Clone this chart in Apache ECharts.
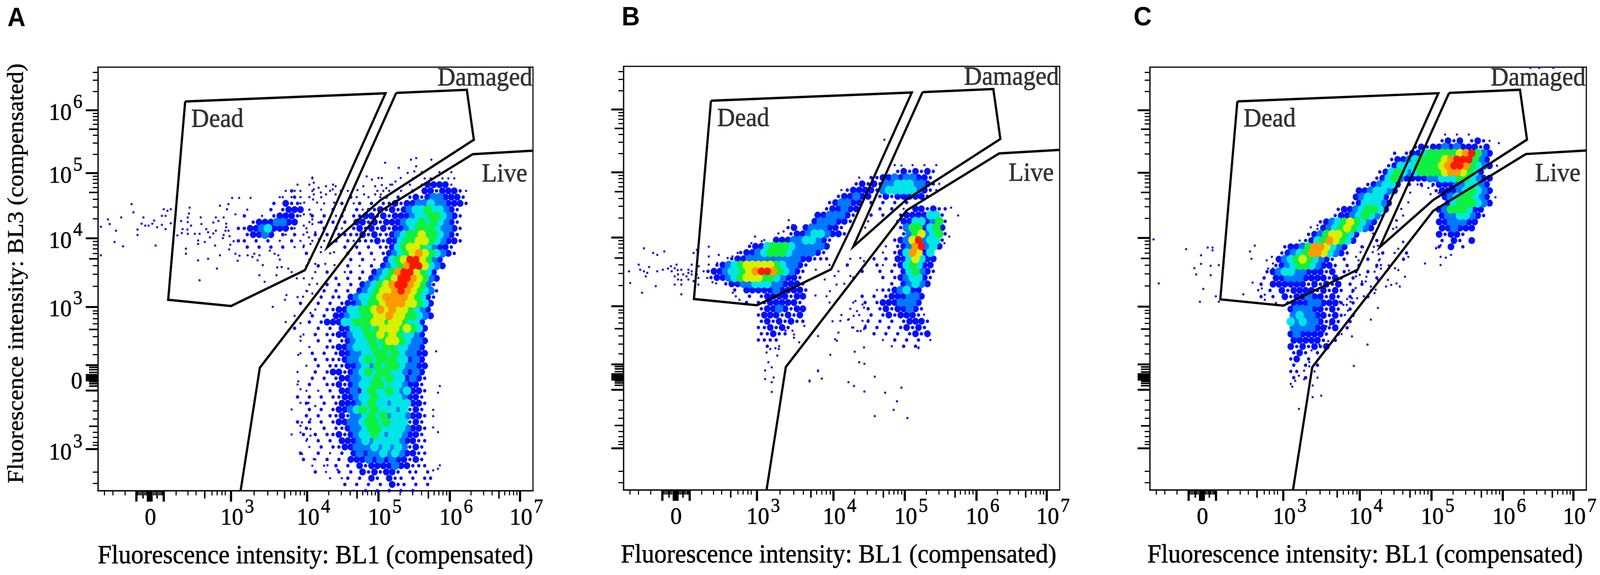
<!DOCTYPE html>
<html>
<head>
<meta charset="utf-8">
<title>Fluorescence gates</title>
<style>
html, body { margin: 0; padding: 0; background: #fff; overflow: hidden; }
#main { width: 4329px; height: 1473px; transform-origin: 0 0; }
#main canvas { filter: blur(0.6px); }
</style>
<script src="https://cdn.jsdelivr.net/npm/echarts@6/dist/echarts.min.js"></script>
</head>
<body>
<div id="main"></div>
<script>
/* axis channels: both axes are biexponential, so values are kept in display channels */
var panelNames = ['A', 'B', 'C'];
var xTitle = 'Fluorescence intensity: BL1 (compensated)';
var yTitle = 'Fluorescence intensity: BL3 (compensated)';

var xMajor = [104, 135, 140, 145, 178, 360, 566, 759, 952, 1142];
var xMid = [122, 160, 289, 505, 701, 894, 1085];
var xMinor = [17, 40, 73, 108, 112, 116, 120, 126, 130, 150, 154, 158, 164, 168, 172, 174, 211, 243, 265, 308, 322, 335, 344,
    422, 459, 485, 521, 535, 547, 558, 624, 658, 682, 716, 729, 740, 750,
    817, 851, 875, 909, 922, 933, 943, 1009, 1043, 1066, 1100, 1113, 1124, 1133];
var xLabelAt = [142, 377, 583, 776, 969, 1159];
var xLabels = ['0', '3', '4', '5', '6', '7'];

var yMajor = [107, 257, 283, 288, 293, 297, 322, 471, 647, 814, 975];
var yMid = [165, 268, 274, 279, 303, 310, 316, 413, 594, 764, 926];
var yMinor = [19, 48, 117, 124, 137, 150, 184, 205, 230, 349, 374, 395, 428, 441, 454, 461,
    524, 555, 577, 608, 620, 630, 639, 697, 727, 747, 777, 788, 798, 806,
    862, 891, 911, 939, 950, 959, 967, 1023, 1052, 1072];
var yLabelAt = [107, 289, 474, 649, 816, 977];
var yLabels = ['3', '0', '3', '4', '5', '6'];

/* gates, same on all three panels */
var deadGate = [[236, 997], [778, 1018], [615, 673], [560, 565], [360, 473], [190, 489], [236, 997]];
var damagedGate = [[807, 1019], [998, 1027], [1017, 899], [764, 744], [620, 623], [807, 1019]];
var liveGate = [[386, 0], [438, 315], [764, 716], [1014, 862], [1177, 871]];
var gateNames = ['Dead', 'Damaged', 'Live'];
var gateLabelAt = [[323, 950], [1047, 1056], [1100, 810]];

/* density, 16 channels per cell. . = none, 1-2 loose dots, 3 blue ... 9 red */
var cellStep = 16;
var levelColors = ['#fff', '#1a1ad2', '#0a0af0', '#0010ff', '#0078ff', '#00e6e6', '#10f040', '#d8f000', '#ff9a00', '#ff1800'];
var levelSizes = [0, 6, 9, 18, 22, 23, 23, 23, 22, 20];

var densityA_left = 492, densityA_top = 816;
var densityA = [
    '.......... .......... ....1..1.1',
    '.....1.... .......... ..1.11.111',
    '...1.1...1 .........1 ..1.133331',
    '..11.1..1. .1....1.1. 1.2.332333 21',
    '1.1..1.1.. 1.21.1.12. 2.23234433 32',
    '...1...1.1 2.12.2.223 2334454433 32',
    '..1..1.1.2 .1.2122323 2345565543 2',
    '1..1.2.2.1 2.22332323 3345566543 2',
    '.1...1.2.2 .2.3323233 3455656543 2',
    '1.1.1..2.2 1.23232323 3456665443 2',
    '.1..1.2.2. 2222323223 4566766543 2',
    '...1.1.1.2 .212223233 5667765433 2',
    '....1..1.. .2.2.2.223 5677654332',
    '....2...1. .2.2.2.234 5678765432',
    '1....1.... ..2.2.1.35 67997643..',
    '....1.2... .2.1.2.345 68997543..',
    '..1...1.2. .12.2.3456 8997653...',
    '.....1...2 .2.2.34567 9987643...',
    '.....1..2. 2.2.345678 9987642...',
    '....1..2.2 .2.3456778 9876542...',
    '...1...2.2 2.34556788 8876532...',
    '...2..2.2. 2334566788 877653....',
    '......1.22 3355667878 776543....',
    '..1..2.2.3 3455667787 766543....',
    '.1...2.233 3556667767 76553.....',
    '..2...2.2. 3355656777 67653.....',
    '....1.2.22 3345566767 65543.....',
    '...1..2.2. 2345565677 65443.....',
    '.....1..22 3345556566 55443.....',
    '...1.2.2.2 3344556656 54433.....',
    '......2.22 2344565666 55343.....',
    '....1.2.22 2334546566 54433.....',
    '...1..2.23 3234565665 54343.....',
    '.....2.2.2 3344556565 53432.....',
    '...1.2..22 3234556655 54332.....',
    '....1.1.2. 3343565565 45332.....',
    '...2.2.2.2 2334556555 54332.....',
    '....2..2.2 3334565545 55332.....',
    '..1..2.2.2 3345656555 45232.....',
    '....2.2.22 3244565645 54332.....',
    '...2.2.2.2 3344566565 55232.....',
    '....2..2.2 2344566555 54332.....',
    '..1.2.2.22 3234556545 54332.....',
    '....1.2.2. 3334545555 43322.....',
    '.....1.2.2 2334445454 54232.....',
    '...2..2.1. 2.34344545 43322.....',
    '....2.1.2. 2.33343434 33232.....',
    '.....1.1.2 .2.3233334 33222.....',
    '......2... 2.2.323233 2.22.2....',
    '........1. 12.2.32.32 2.2.22....',
    '.......... .2.2.2.2.3 22.2.2....',
    '.......... ..1.2.2.2. 2.2.......'
];
var clusterA_left = 380, clusterA_top = 768;
var clusterA = [
    '........12..',
    '.......1.21.',
    '......2.322.',
    '.1...2.2333.',
    '.2..1.23332.',
    '..23334433..',
    '2233453332..',
    '.23343.2.2..',
    '22.2.2.1.2..',
    '.2.2.2.2.1..'
];
var densityB_left = 220, densityB_top = 832;
var densityB = [
    '.......... .......... .......... ..1..1.1.1',
    '.......... .......... .......... ..2323232.',
    '.......... .......... ......1.22 334344332.',
    '.......... .......... .....23232 4455544321',
    '.......... .......... ...1233332 4555554321',
    '.......... .......... ..233433.2 32333332..',
    '.......... .......... .234433.2. 2.2.2.....',
    '.......... .......... 233433...2 .2.1.33232 2.',
    '.......... .........3 344432..2. 2..2333355 2.',
    '.......... ........34 44332..1.. ..23355346 2.',
    '.......... ....23.344 4332...1.. ...2466356 3.',
    '.......... ....233455 4332...... ...2467456 2.',
    '.......... 1.33344554 32........ ..23479455 2.',
    '.......233 5666544444 3......... 1.23489453',
    '......2334 5666544443 2......... 1.2358735.',
    '....233444 4444443322 2...1...2. 2.3357533.',
    '..23456777 77654432.. .1..2..1.2 1.2356533.',
    '2334556789 9865432... ..1...2..2 .2.356432.',
    '.233456777 6654332... .....1.... 2.2345532.',
    '...2334455 5443332... ...1...... .2.34543..',
    '.....2.333 33433332.. .........1 2234533...',
    '.......2.2 3333233... 1.....2.2. 2333443...',
    '.......2.2 2333332... .1...1.2.2 3334443...',
    '.........2 3343233... ....1..2.2 3233432...',
    '.........2 3332323... ...1..1.2. 2323332...',
    '.........2 3232322... .1.....2.2 .2.23332..',
    '.........2 23232..... .....1.2.2 .2.23232..',
    '.........2 2322...... ........2. 2.2.2323..',
    '.........2 222....... .......... 1.2.2.2.1.',
    '.......... 2.1....... .......... .1.2.2....'
];
var densityC_left = 252, densityC_top = 912;
var densityC = [
    '.......... .......... .......... ....1.1.1.',
    '.......... .......... .......... ...2323.23 21.',
    '.......... .......... .........2 3233434333 23.',
    '.......... .......... .....2.233 5666667896 43.',
    '.......... .......... .....23345 6666789996 43.',
    '.......... .......... ....235556 6667899865 43.',
    '.......... .......... ...2356545 6666788765 3..',
    '.......... .......... ..23564333 3445556654 33.',
    '.......... .......... .234553.2. 2.23334455 43.',
    '.......... .........3 345543.... ..23334565 43.',
    '.......... .........3 45553..... ....345665 43.',
    '.......... ........23 55543..... ....356665 43.',
    '.......... ......2334 56653..... ...3466653 3..',
    '.......... .....23345 6542...... ...3445543 2..',
    '.......... ...2345676 543....... ...3344433',
    '.......... ...3456765 43........ ...334333.',
    '.......... .234677653 .......... ...32332..',
    '.........1 235687653. ..2....... ...2.32.3.',
    '.......233 46887543.. 2.1....... ...2.3.2..',
    '......2345 68875432.. ...2.1.2..',
    '......3456 765432.2.. .2.1...2..',
    '.....23456 654332.2.2 ..2.1.....',
    '....234554 433323.2.2 .2........',
    '...2.33444 3333232.2. ..2.......',
    '...2.33333 3232323.2. 2.........',
    '..1.2.3233 3323232.2. .1........',
    '...2.2.323 3433232.2. .2........',
    '.....1.233 3443332.2.',
    '........34 4433232.2.',
    '........45 4433232.2.',
    '........54 5443232.2.',
    '........44 443323.2..',
    '........34 33332.2...',
    '........33 3332.2....',
    '........32 32323.....',
    '........23 2.2.......',
    '........23 .2........',
    '........2. 2.2.......',
    '........22 ..1.......',
    '........2. 2.1.......',
    '........1.'
];

/* single events outside the dense parts */
var eventsA = [[91,734],[96,713],[63,700],[27,695],[32,683],[8,676],[49,666],[45,637],[68,626],[8,603],[123,700],[118,684],[128,679],[137,679],[147,684],[152,692],[160,675],[107,669],[107,655],[156,628],[173,681],[183,670],[173,704],[183,704],[178,721],[188,717],[197,721],[197,685],
    [225,691],[248,725],[246,710],[243,700],[243,688],[252,679],[229,670],[242,669],[227,660],[215,654],[243,658],[262,658],[275,658],[278,700],[280,683],[271,641],[271,632],[289,637],[238,620],[238,607],[271,590],[298,594],[322,569],[275,539],[317,628],[303,649],[293,670],[298,662],[312,659],[319,666],[312,687],[319,700],[326,691],[340,700],[330,730],[353,734],[349,721],[363,750],[382,750],[413,750],[330,603],[347,684],[347,675],[340,655],[338,647],[356,652],[345,666],[353,666],[367,639],[358,630],[355,618],[372,708],[372,607],[383,602],[378,589],[405,603],[423,607],[418,599],[437,603],[432,590],[446,578],[437,552],[483,552],[451,535],[465,615],[478,607],[488,603],[485,572],[497,573],[515,569],[510,501],[506,489],[473,471],
    [915,357],[925,268],[920,251],[907,207],[907,191],[907,162],[920,150],[925,65],[920,56],[907,52],[548,225],[570,225],[588,217],[575,183],[552,175],[548,166],[575,158],[548,149],[575,141],[566,132],[552,94],[584,81],[621,65],[617,48],[648,54],[548,395],[542,348],[542,280],[548,260],
    [580,802],[584,789],[597,776],[617,780],[643,780],[584,772],[603,764],[635,772],[657,768],[584,759],[617,759],[643,759],[582,746],[558,738],[593,738],[639,738],[575,708],[557,708],[580,695],[580,683],[597,687],[557,679],[566,662],[588,662],[571,649],[557,628],[575,632],[598,644],[603,611],[588,581],[639,611],[615,581],[640,578],[538,544],[557,544],[593,530],[566,511],[580,505],[555,497],[575,455],[548,429],
    [777,840],[847,848],[861,852],[902,848],[814,827],[861,831],[838,814],[856,818],[727,805],[741,797],[759,801],[768,801],[819,801],[805,792],[768,783],[791,784],[750,780],[718,780],[702,770],[780,775],[772,768],[720,759],[750,759],[765,759]];
var eventsB = [[55,619],[80,607],[91,602],[110,611],[41,577],[69,571],[45,564],[55,560],[64,556],[60,547],[91,560],[106,564],[120,567],[130,560],[128,573],[143,577],[138,568],[146,563],[156,564],[138,547],[147,552],[161,552],[147,539],[156,538],[170,547],[175,564],[175,556],[184,560],[184,552],[175,539],[189,535],[138,526],[156,526],[87,522],[50,505],[156,501],[18,530],[15,560],[184,577],[189,607],[198,615],[230,623],[230,598],[230,577],[257,602],[308,607],[294,598],[281,594],[253,581],[216,560],[203,573],[198,552],[202,543],[191,535],[202,526],[226,543],[240,532],[250,529],[295,505],[313,487],[303,496],[355,649],[418,657],[432,662],[446,691],[456,678],[345,632],[373,637],[410,645],
    [391,327],[400,314],[382,306],[405,288],[382,284],[400,276],[400,251],[386,352],[415,344],[410,363],[419,361],[396,361],[488,420],[460,390],[474,378],[525,394],[525,306],[502,280],[456,408],[460,398],[437,408],
    [796,365],[811,449],[571,386],[580,403],[649,365],[585,433],[608,437],[621,446],[617,416],[631,407],[640,407],[649,412],[645,433],[653,421],[660,435],[630,458],[626,484],[645,475],[649,467],[653,479],[557,509],[575,526],[543,539],[570,548],[612,548],[519,564],[518,498],[639,594],[649,586],[903,703],[884,723],[879,649],[866,632],[750,831],
    [678,189],[729,205],[766,184],[706,249],[738,227],[750,262],[650,252],[622,266],[607,276],[502,278],[535,285],[525,304],[558,346],[624,354],[636,327],[650,323],[678,290],[576,382],[606,436],[632,407],[796,363],[704,897]];
var eventsC = [[10,643],[98,618],[156,622],[169,622],[138,602],[169,615],[120,569],[138,580],[164,575],[186,577],[125,553],[164,551],[24,530],[144,516],[178,497],[186,483],[135,483],[270,612],[283,627],[274,593],[277,532],[252,502],[301,526],
    [434,674],[452,679],[452,670],[471,683],[472,672],[315,589],[329,598],[319,568],[332,568],[332,581],[292,513],[302,517],[310,501],[310,488],
    [575,623],[568,610],[556,598],[563,589],[537,563],[566,552],[584,547],[582,535],[572,535],[556,548],[601,610],[617,605],[615,627],[618,589],[611,572],[623,577],[623,568],[606,560],[615,539],[596,522],[609,514],[606,505],[577,497],[559,492],[546,508],[555,518],[545,492],[532,490],[541,483],[522,475],[531,475],[534,460],[526,449],[512,483],[486,448],[476,420],[486,424],[469,406],[517,400],[545,394],[481,382],[457,373],[436,358],[587,373],[615,467],[596,437],[742,581],[784,577],[784,598],[772,620],[697,598],[670,619],[683,636],[666,691],[656,670],[665,674],[688,547],[670,564],[661,569],[642,539],[637,522],[651,526],[665,530],[674,522],[550,318],[430,328],[430,317],[416,306],[416,284],[402,293],[392,280],[384,265],[439,268],[439,238],[462,242],[402,208],[602,650],
    [932,751],[941,890],[936,832],[697,738],[678,721],[683,704],[664,692],[702,763],[779,762],[757,759],[762,780],[751,775],[722,784],[734,780],[683,637],[798,596],[812,603],[772,621],[784,628],[602,658],[1026,1083],[1050,1083],[1088,1083]];

var panelGrids = [
    {left: 265, top: 172, width: 1177, height: 1085},
    {left: 1687, top: 170, width: 1180, height: 1085},
    {left: 3111, top: 172, width: 1181, height: 1083}
];
var letterPos = [[20, 14], [1682, 12], [3067, 12]];
var serif = '"Liberation Serif", serif';

function cells(rows, left, top) {
    var out = [];
    rows.forEach(function (row, j) {
        row.replace(/ /g, '').split('').forEach(function (ch, i) {
            if (ch !== '.') {
                // every other row sits half a cell over, keeps the loose dots from looking like a grid
                out.push([left + i * cellStep + (j % 2) * cellStep / 2, top - j * cellStep, +ch]);
            }
        });
    });
    return out;
}

function densityData(p) {
    var list;
    if (p === 0) {
        list = cells(densityA, densityA_left, densityA_top).concat(cells(clusterA, clusterA_left, clusterA_top));
    } else if (p === 1) {
        list = cells(densityB, densityB_left, densityB_top);
    } else {
        list = cells(densityC, densityC_left, densityC_top);
    }
    // cold first, so the hot cores end up on top
    return list.sort(function (a, b) { return a[2] - b[2]; });
}

function powerLabel(text) {
    return text === '0' ? '{d|0}' : '{d|10}{s|' + text + '}';
}
var labelRich = {
    d: {fontFamily: serif, fontSize: 62, lineHeight: 84, verticalAlign: 'bottom', color: '#000', textBorderColor: '#000', textBorderWidth: 0.8},
    s: {fontFamily: serif, fontSize: 50, lineHeight: 56, verticalAlign: 'top', color: '#000', padding: [0, 0, 0, 4], textBorderColor: '#000', textBorderWidth: 0.8}
};

function tickAxis(gridIndex, max, ticks, length, width) {
    return {
        type: 'value',
        gridIndex: gridIndex,
        min: 0,
        max: max,
        axisLine: {show: true, onZero: false, lineStyle: {color: '#000', width: 3}},
        axisTick: {show: true, customValues: ticks, length: length, lineStyle: {color: '#000', width: width}},
        axisLabel: {show: false},
        splitLine: {show: false}
    };
}

var xAxes = [], yAxes = [], series = [], titles = [];
panelNames.forEach(function (name, p) {
    var base = p * 3;
    var x0 = tickAxis(p, 1177, xMajor, 28, 6);
    x0.position = 'bottom';
    x0.axisLabel = {
        show: true, customValues: xLabelAt, margin: 18, hideOverlap: false, rich: labelRich,
        formatter: function (v) { return powerLabel(xLabels[xLabelAt.indexOf(v)]); }
    };
    x0.name = xTitle;
    x0.nameLocation = 'middle';
    x0.nameGap = 134;
    x0.nameTextStyle = {fontFamily: serif, fontSize: 67.7, color: '#000', textBorderColor: '#000', textBorderWidth: 0.8, padding: [0, p === 0 ? 0 : 16, 0, 0]};
    var x1 = tickAxis(p, 1177, xMid, 20, 4);
    x1.position = 'bottom';
    var x2 = tickAxis(p, 1177, xMinor, 12, 3);
    x2.position = 'bottom';
    xAxes.push(x0, x1, x2);

    var y0 = tickAxis(p, 1085, yMajor, 33, 5);
    y0.position = 'left';
    if (p === 0) {
        y0.axisLabel = {
            show: true, customValues: yLabelAt, margin: 42, hideOverlap: false, rich: labelRich,
            formatter: function (v) { return powerLabel(yLabels[yLabelAt.indexOf(v)]); }
        };
        y0.name = yTitle;
        y0.nameLocation = 'middle';
        y0.nameGap = 188;
        y0.nameTextStyle = {fontFamily: serif, fontSize: 61.8, color: '#000', textBorderColor: '#000', textBorderWidth: 0.8, padding: [0, 0, 0, 28]};
    }
    var y1 = tickAxis(p, 1085, yMid, 24, 4);
    y1.position = 'left';
    var y2 = tickAxis(p, 1085, yMinor, 14, 3);
    y2.position = 'left';
    yAxes.push(y0, y1, y2);

    titles.push({
        text: name, left: letterPos[p][0], top: letterPos[p][1], padding: 0,
        textStyle: {fontFamily: '"Liberation Sans", sans-serif', fontWeight: 'bold', fontSize: 68, color: '#000'}
    });

    series.push({
        type: 'scatter', xAxisIndex: base, yAxisIndex: base, silent: true, z: 2,
        data: densityData(p),
        symbolSize: function (v) { return levelSizes[v[2]]; },
        itemStyle: {color: function (d) { return levelColors[d.value[2]]; }, opacity: 1}
    });
    series.push({
        type: 'scatter', xAxisIndex: base, yAxisIndex: base, silent: true, z: 2,
        data: [eventsA, eventsB, eventsC][p],
        symbolSize: 6,
        itemStyle: {color: levelColors[1], opacity: 1}
    });
    [deadGate, damagedGate, liveGate].forEach(function (gate) {
        series.push({
            type: 'line', xAxisIndex: base, yAxisIndex: base, silent: true, z: 3,
            data: gate, symbol: 'none',
            lineStyle: {color: '#000', width: 6, join: 'miter'}
        });
    });
    series.push({
        type: 'scatter', xAxisIndex: base, yAxisIndex: base, silent: true, z: 4,
        symbolSize: 0,
        data: gateLabelAt.map(function (pos, i) { return {name: gateNames[i], value: pos}; }),
        label: {show: true, position: 'inside', formatter: '{b}', fontFamily: serif, fontSize: 67, color: '#000', textBorderColor: '#000', textBorderWidth: 0.8}
    });
});

// the window can come up narrower than the 4329 the figure is laid out for, so fit it across
var mainEl = document.getElementById('main');
mainEl.style.transform = 'scaleX(' + (window.innerWidth / 4329) + ')';

var myChart = echarts.init(mainEl, null, {renderer: 'canvas', width: 4329, height: 1473});
myChart.setOption({
    animation: false,
    backgroundColor: '#fff',
    title: titles,
    grid: panelGrids.map(function (g) {
        return {left: g.left, top: g.top, width: g.width, height: g.height, show: true, borderColor: '#000', borderWidth: 3, backgroundColor: 'transparent'};
    }),
    xAxis: xAxes,
    yAxis: yAxes,
    series: series
});
</script>
</body>
</html>
